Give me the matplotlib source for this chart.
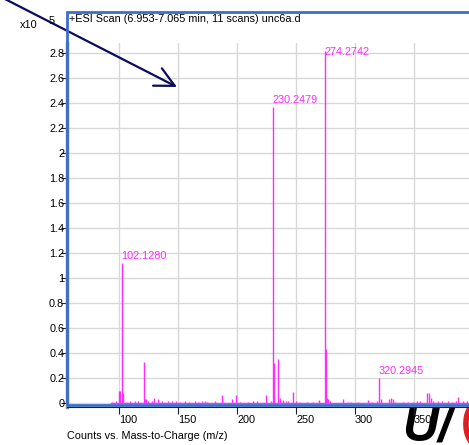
import matplotlib.pyplot as plt
from matplotlib.patches import Rectangle
from matplotlib.ticker import FuncFormatter

plt.rcParams['font.family'] = ['Liberation Sans', 'DejaVu Sans']

# spectrum, intensity in units of 1e5 counts
mz = [94.3, 97.5, 100.3, 101.1, 102.13, 103.1, 106.0, 109.0, 113.5, 116.4,
      121.1, 122.0, 122.9, 124.8, 127.7, 130.0, 133.3, 136.0, 141.8, 144.6,
      148.3, 151.7, 155.9, 159.3, 164.4, 167.2, 170.0, 172.9, 174.2, 181.4,
      187.0, 195.5, 198.9, 202.5, 209.6, 213.9, 217.3, 224.9, 228.6, 230.25,
      231.3, 234.5, 236.4, 239.3, 241.5, 243.5, 247.7, 250.0, 253.4, 259.0,
      264.7, 269.7, 274.27, 275.2, 276.0, 277.4, 278.8, 289.6, 294.3, 296.6,
      302.8, 311.3, 314.1, 318.3, 320.29, 321.7, 329.0, 330.2, 331.8, 333.9,
      340.9, 345.1, 349.4, 352.2, 355.0, 361.3, 362.7, 364.1, 366.4, 370.6,
      373.5, 379.1, 382.0, 385.6, 387.6, 391.3, 394.7]
counts = [0.01, 0.015, 0.1, 0.1, 1.12, 0.08, 0.01, 0.015, 0.02, 0.015,
          0.33, 0.03, 0.035, 0.02, 0.02, 0.04, 0.03, 0.015, 0.02, 0.015,
          0.015, 0.01, 0.015, 0.01, 0.015, 0.01, 0.02, 0.015, 0.01, 0.015,
          0.065, 0.03, 0.065, 0.01, 0.01, 0.015, 0.02, 0.065, 0.02, 2.37,
          0.32, 0.35, 0.04, 0.025, 0.02, 0.015, 0.09, 0.02, 0.01, 0.01,
          0.01, 0.025, 2.82, 0.43, 0.04, 0.03, 0.015, 0.03, 0.01, 0.01,
          0.01, 0.025, 0.01, 0.02, 0.2, 0.035, 0.03, 0.04, 0.03, 0.01,
          0.01, 0.01, 0.01, 0.015, 0.015, 0.08, 0.08, 0.04, 0.02, 0.02,
          0.015, 0.015, 0.01, 0.02, 0.05, 0.015, 0.02]
labelled = [102.1280, 230.2479, 274.2742, 320.2945]
labelled_h = [1.12, 2.37, 2.82, 0.2]

pink = '#ff2bff'
fs = 7.8
fig = plt.figure(figsize=(4.69, 4.45), dpi=100)
ax = fig.add_axes([67 / 469, (445 - 407) / 445, 1 - 67 / 469, (407 - 43) / 445])
ax.set_xlim(55.9, 396.6)
ax.set_ylim(-0.032, 2.88)

ax.vlines(mz, 0, counts, color=pink, lw=1.0, zorder=3)
ax.plot([93, 397], [0.004, 0.004], color=pink, lw=1.0, zorder=3)
for m, h in zip(labelled, labelled_h):
    ax.text(m, min(h, 2.75) + 0.055, '%.4f' % m, color=pink, fontsize=fs,
            ha='left', va='center', zorder=4)

ax.set_xticks([100, 150, 200, 250, 300, 350])
ax.set_yticks([i * 0.2 for i in range(15)])
ax.yaxis.set_major_formatter(FuncFormatter(lambda v, p: '%g' % round(v, 1)))
ax.grid(True, color='#d8d8d8', lw=1.0)
ax.set_axisbelow(True)
for s in ['top', 'right']:
    ax.spines[s].set_visible(False)
ax.spines['left'].set_color('#8c8c8c')
ax.spines['left'].set_linewidth(2.5)
ax.spines['bottom'].set_color('#202020')
ax.tick_params(axis='y', length=4, pad=-2, labelsize=fs, color='#202020')
ax.tick_params(axis='x', length=5, pad=0.5, labelsize=fs, color='#202020')
for t in ax.get_xticklabels():
    t.set_ha('left')

# selection frame around the plot
fig.patches.append(Rectangle((67 / 469, (445 - 405) / 445), 0.9, (405 - 12) / 445,
                             transform=fig.transFigure, fill=False,
                             edgecolor='#3a6fc9', lw=2.0, zorder=5))

fig.text(69 / 469, 1 - 19 / 445, '+ESI Scan (6.953-7.065 min, 11 scans) unc6a.d',
         fontsize=fs, va='center', ha='left')
fig.text(20 / 469, 1 - 25 / 445, 'x10', fontsize=fs, va='center', ha='left')
fig.text(49 / 469, 1 - 21 / 445, '5', fontsize=fs, va='center', ha='left')
fig.text(67 / 469, 1 - 436 / 445, 'Counts vs. Mass-to-Charge (m/z)',
         fontsize=fs, va='center', ha='left')

# logo partially hidden under the axis
fig.text(402 / 469, 1 - 404 / 445, 'U/', fontsize=36, fontweight='bold',
         fontstyle='italic', color='black', va='top', zorder=-1)
fig.text(461 / 469, 1 - 404 / 445, '(', fontsize=30, fontweight='bold',
         color='#e02020', va='top', zorder=-1)

ax.annotate('', xy=(177, 445 - 87), xytext=(3, 445 + 2),
            xycoords='figure pixels', textcoords='figure pixels',
            arrowprops=dict(arrowstyle='->, head_length=0.7, head_width=0.35',
                            color='#0c0c5c', lw=1.6, mutation_scale=20,
                            shrinkA=0, shrinkB=0),
            annotation_clip=False)

plt.savefig('out.png', dpi=100)
